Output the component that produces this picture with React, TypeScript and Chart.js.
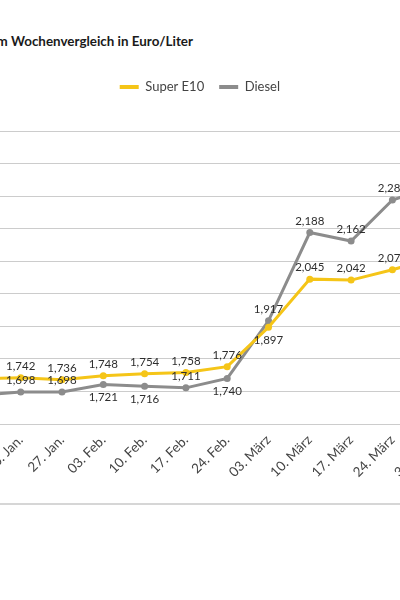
import { useEffect, useRef } from "react";
import { Chart, registerables } from "chart.js";

Chart.register(...registerables);

const categories = [
  "13. Jan.", "20. Jan.", "27. Jan.", "03. Feb.", "10. Feb.", "17. Feb.",
  "24. Feb.", "03. März", "10. März", "17. März", "24. März", "31. März",
];
const superE10 = [1.739, 1.742, 1.736, 1.748, 1.754, 1.758, 1.776, 1.897, 2.045, 2.042, 2.074, 2.11];
const diesel = [1.688, 1.698, 1.698, 1.721, 1.716, 1.711, 1.74, 1.917, 2.188, 2.162, 2.288, 2.33];
const superPlacement = ["a", "a", "a", "a", "a", "a", "a", "b", "a", "a", "a", "a"];
const dieselPlacement = ["a", "a", "a", "b", "b", "a", "b", "a", "a", "a", "a", "a"];
const yMin = 1.6;
const yMax = 2.5;
const yStep = 0.1;

const FONT = "Lato, 'Noto Sans', sans-serif";
const YELLOW = "#f5c518";
const GRAY = "#8c8c8c";

const fmt = (v: number) => v.toFixed(3).replace(".", ",");

const valueLabels = {
  id: "valueLabels",
  afterDatasetsDraw(chart: any) {
    const ctx = chart.ctx;
    const placements = [superPlacement, dieselPlacement];
    ctx.save();
    ctx.font = `11.5px ${FONT}`;
    ctx.fillStyle = "#2e2e2e";
    ctx.textAlign = "center";
    ctx.textBaseline = "middle";
    chart.data.datasets.forEach((ds: any, di: number) => {
      const meta = chart.getDatasetMeta(di);
      meta.data.forEach((pt: any, i: number) => {
        const dy = placements[di][i] === "a" ? -11.5 : 13;
        ctx.fillText(fmt(ds.data[i]), pt.x, pt.y + dy);
      });
    });
    ctx.restore();
  },
};

const legendMargin = {
  id: "legendMargin",
  beforeInit(chart: any) {
    const legend = chart.legend;
    if (!legend) return;
    const origFit = legend.fit;
    legend.fit = function () {
      origFit.bind(legend)();
      this.height += 27.5;
    };
  },
};

export default function App() {
  const canvasRef = useRef<HTMLCanvasElement | null>(null);

  useEffect(() => {
    if (!canvasRef.current) return;
    const chart = new Chart(canvasRef.current, {
      type: "line",
      data: {
        labels: categories,
        datasets: [
          {
            label: "Super E10",
            data: superE10,
            borderColor: YELLOW,
            backgroundColor: YELLOW,
            borderWidth: 3,
            pointRadius: 3.5,
            pointBorderWidth: 0,
            pointBackgroundColor: YELLOW,
            tension: 0,
          },
          {
            label: "Diesel",
            data: diesel,
            borderColor: GRAY,
            backgroundColor: GRAY,
            borderWidth: 3,
            pointRadius: 3.5,
            pointBorderWidth: 0,
            pointBackgroundColor: GRAY,
            tension: 0,
          },
        ],
      },
      options: {
        animation: false,
        responsive: true,
        maintainAspectRatio: false,
        layout: { padding: { top: 65.5, left: 0, right: 10.3, bottom: 0 } },
        plugins: {
          title: { display: false },
          tooltip: { enabled: false },
          legend: {
            display: true,
            position: "top",
            labels: {
              boxWidth: 19,
              boxHeight: 4,
              padding: 15,
              color: "#444444",
              font: { family: FONT, size: 13 },
              generateLabels: (c: any) =>
                Chart.defaults.plugins.legend.labels
                  .generateLabels(c)
                  .map((l: any) => ({ ...l, lineWidth: 0 })),
            },
          },
        },
        scales: {
          x: {
            type: "category",
            offset: false,
            grid: { display: false, drawTicks: false },
            border: { display: false },
            ticks: {
              autoSkip: false,
              minRotation: 45,
              maxRotation: 45,
              padding: 8,
              color: "#444444",
              font: { family: FONT, size: 13.5 },
            },
            afterFit: (scale: any) => {
              scale.height = 80;
              scale.paddingLeft = 0;
              scale.paddingRight = 0;
            },
          },
          y: {
            min: yMin,
            max: yMax,
            grid: { color: "#cccccc", lineWidth: 1, drawTicks: false },
            border: { display: false },
            ticks: {
              display: false,
              stepSize: yStep,
              callback: (v: any) => Number(v).toFixed(2).replace(".", ","),
            },
            afterFit: (scale: any) => {
              scale.width = 13.4;
              scale.paddingTop = 0;
              scale.paddingBottom = 0;
            },
          },
        },
      },
      plugins: [legendMargin, valueLabels],
    } as any);
    return () => chart.destroy();
  }, []);

  return (
    <div
      style={{
        position: "fixed",
        left: 0,
        top: 0,
        width: 400,
        height: 600,
        overflow: "hidden",
        background: "#ffffff",
        fontFamily: FONT,
      }}
    >
      <div
        style={{
          position: "absolute",
          right: 207,
          top: 32,
          whiteSpace: "nowrap",
          fontWeight: 700,
          fontSize: 13.4,
          color: "#1a1a1a",
          lineHeight: "18px",
        }}
      >
        Kraftstoffpreise im Wochenvergleich in Euro/Liter
      </div>
      <div
        style={{
          position: "absolute",
          left: -34,
          top: 0,
          width: 478,
          height: 504,
        }}
      >
        <canvas ref={canvasRef} />
      </div>
      <div
        style={{
          position: "absolute",
          left: 0,
          top: 503,
          width: 400,
          height: 2,
          background: "#d6d6d6",
        }}
      />
    </div>
  );
}
